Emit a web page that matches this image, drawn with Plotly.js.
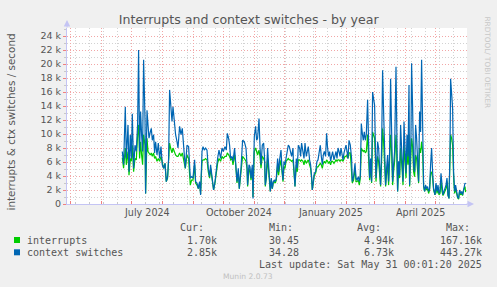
<!DOCTYPE html>
<html><head><meta charset="utf-8">
<script src="https://cdn.plot.ly/plotly-3.0.1.min.js"></script>
<style>html,body{margin:0;padding:0;background:#F0F0F0;}#chart{width:497px;height:287px;}</style>
</head><body><div id="chart"></div>
<script>
// ---- data (values in thousands per second) ----
const seriesStart = '2024-06-22';           // day 0 of the sampled series
const dayOffsets = [
 0,1.3,3,4,5.7,6.7,8,9,10,11.3,12.7,14,15.3,16.3,17.3,18.3,19.3,20.3,21.3,22.7,23.3,24.7,25.7,26.7,28,29,30,31.3,32.3,33.3,34.7,36,37.3,38.7,40,41.3,42.7,44,45.3,46.3,47.3,48.3,49.7,50.7,52,53.3,54.7,
 55.7,57.3,58.7,60,61.3,63,64.7,66.3,68,69.3,70.7,72.3,73.3,74.7,76,77.3,78.3,79.7,80.7,82,83.3,84.7,86,87.3,88.3,89.7,91.3,92.7,94,95.3,96.7,98.3,99.7,101,102.7,104,105,106.3,107.3,108.3,109.7,110.7,112.3,
 113,114.7,116,117,118.7,120.3,122,123.7,124.7,125.3,126.7,127.7,128.7,130,130.7,132,133.3,134.3,135.3,136.7,137.7,138.7,140,141.3,142.3,143,144,145.3,146.3,147.3,148,149,150,151,152,153,154,155.3,156.3,157.3,158.7,159.7,160.7,161.7,162.7,163.7,164.7,166,167,168,169.3,170.7,
 171,172.7,174,175,176,177.3,178.3,179.3,180.7,181.7,182.7,184,185,186,187.3,188.3,189.3,190,191,192,193.3,194.7,195.7,196.7,198,199,200,201,202,203.3,204.3,205.3,206.3,207.3,208.3,209.3,210.3,211.7,212.7,213.7,214.7,215.7,216.7,217.7,218.7,219.7,220.7,221.7,222.7,223.7,224.7,225.7,226.7,228,229.3,
 230,231.3,232.7,233.7,234.7,236,237,238,239,240,241,242,243,244,245.3,246.3,247.3,248.3,249.3,250.3,251.3,252.3,253,253.7,254.7,255.3,256.3,257.3,258.3,259.3,260.3,261.3,262.3,263.3,264.3,265.3,266.3,267.3,268.3,269.3,270.3,271.3,272.3,273.7,274.3,275.3,276.3,277.3,278.3,279.7,280.7,281.7,282.7,283.7,284.7,285.7,286.7,
 287.3,288.7,289.3,290.3,291.3,292.3,293.3,294.3,295.3,296.3,297.3,298.3,299.3,300.3,301.3,302.3,303.3,304.3,305.3,306.3,307.3,308.3,309.3,310.3,311.3,312.7,313.7,314.7,315.7,316.7,317.7,318.7,319.7,320.7,321.7,322.7,323.7,324.7,325.7,326.7,327.7,328.3,329.3,330.3,331.3,332.3,333.3,334.3,335.3,336.3,337.3,338.3,339.3,340.3,341.3,342.7,343.3
];
const contextSwitches = [
 7.5,5.6,13.9,6.5,11.3,4.6,9.9,6.5,12.9,5.1,8.4,7.5,11.3,22.0,7.5,13.2,9.9,7.5,20.6,12.2,1.5,13.4,11.3,9.4,10.3,10.8,9.1,9.9,7.3,8.9,7.0,8.7,6.5,8.2,5.6,5.1,5.8,3.2,3.9,6.5,16.3,14.1,11.8,13.9,11.3,9.9,8.9,
 8.0,11.1,9.9,10.8,8.7,5.1,8.4,8.2,3.7,3.9,3.7,6.3,3.2,3.0,2.2,3.2,1.3,7.5,8.2,7.7,8.0,7.7,5.1,3.9,5.6,3.4,2.0,3.2,5.1,6.5,7.7,6.5,8.0,7.5,8.2,7.7,10.1,9.4,8.4,6.5,6.8,6.1,8.0,
 6.9,3.2,5.1,2.2,5.1,9.1,8.9,8.0,5.6,2.7,5.6,5.3,3.7,5.6,0.8,9.6,11.1,9.1,9.4,12.2,8.2,5.6,8.4,8.7,6.5,2.7,3.9,8.0,5.6,3.2,1.8,3.7,2.2,3.2,3.4,3.2,3.7,6.5,4.6,6.3,7.7,5.1,3.4,6.1,5.6,6.5,7.3,8.4,8.2,7.5,6.8,8.0,
 6.5,2.5,6.5,5.1,8.4,8.0,6.8,8.7,7.5,6.5,8.7,6.8,7.5,8.2,6.3,5.6,3.9,2.0,3.2,4.4,4.6,6.1,6.3,7.5,8.4,6.8,5.6,7.0,7.5,6.8,10.1,8.0,6.8,7.5,6.1,6.8,7.5,6.3,7.0,7.5,6.5,8.0,7.5,6.8,8.0,7.0,6.3,7.3,7.7,8.4,7.5,6.5,9.1,8.4,6.5,
 3.2,3.9,5.8,3.7,3.4,3.9,3.2,4.1,11.5,10.1,9.1,10.3,9.1,9.9,14.9,8.7,3.7,6.5,3.2,16.0,15.3,14.1,8.9,3.7,6.5,8.9,8.0,4.1,2.7,8.0,19.1,13.2,5.6,2.7,5.1,7.0,3.2,7.5,17.9,9.9,3.2,5.6,7.5,19.6,11.3,1.8,6.1,4.1,11.3,6.1,3.2,11.8,7.5,4.4,9.9,6.8,17.0,
 2.7,9.9,20.1,13.7,5.6,4.6,11.3,9.4,5.6,3.2,13.2,10.3,20.6,12.2,2.7,1.8,2.7,2.2,2.5,1.8,2.2,5.6,8.0,4.6,2.2,1.3,3.0,1.8,2.7,1.5,1.8,4.4,2.0,1.3,1.8,2.2,2.7,3.7,1.3,0.8,7.5,17.9,16.0,13.7,4.6,1.8,2.7,1.5,1.0,0.8,2.0,1.5,1.8,1.3,2.2,3.0,2.85
];
const interrupts = [
 6.6,5.1,8.0,5.6,7.5,4.1,6.5,6.1,8.4,4.6,6.5,6.3,9.9,11.3,6.5,8.9,7.0,5.6,9.9,8.4,1.5,9.4,7.5,7.3,7.0,7.3,6.8,7.3,6.5,6.8,6.1,6.5,6.1,6.8,5.6,5.1,5.8,3.2,3.7,6.1,8.7,8.0,7.3,8.0,7.5,7.0,6.8,
 6.8,7.3,6.8,7.3,6.5,5.1,7.0,6.5,2.7,3.4,3.4,5.6,3.0,2.7,2.2,3.0,1.5,6.1,6.3,6.3,6.5,6.3,4.6,3.7,5.1,3.2,2.0,3.0,4.6,5.8,6.5,6.1,6.8,6.5,6.8,6.8,7.3,7.0,6.8,6.3,6.5,5.6,7.0,
 6.3,3.0,4.6,2.2,4.6,6.8,6.5,6.1,5.1,2.5,5.1,4.6,3.4,5.1,1.0,7.5,8.0,7.3,7.0,7.7,6.8,5.1,6.8,6.5,6.1,2.5,3.7,6.5,5.1,3.0,1.8,3.4,2.2,3.0,3.2,3.0,3.4,5.6,4.1,5.3,6.3,4.6,3.2,5.3,5.1,6.1,6.3,6.5,6.3,6.3,6.1,6.3,
 5.8,2.5,5.6,4.6,6.3,6.3,6.1,6.3,6.1,5.6,6.3,5.8,6.1,6.3,5.6,5.1,3.7,2.0,3.0,4.1,4.4,5.3,5.3,5.6,5.8,5.6,5.1,5.8,6.1,5.8,6.3,6.1,5.8,6.1,5.6,6.1,6.1,5.8,6.1,6.3,6.1,6.3,6.3,6.1,6.3,6.3,6.1,6.5,6.8,6.8,7.0,6.5,7.3,7.3,5.1,
 3.0,3.4,5.1,3.2,3.2,3.4,2.7,3.7,8.0,7.7,7.5,7.7,7.3,7.5,9.9,6.5,3.4,5.6,3.0,10.3,9.6,9.4,7.0,3.2,5.6,6.8,6.1,3.4,2.5,6.1,10.8,8.9,4.6,2.5,4.4,5.6,2.7,6.1,9.9,7.5,2.7,4.6,6.1,9.9,8.0,1.8,5.1,3.7,8.0,5.1,2.7,8.4,6.1,3.7,7.5,5.6,9.9,
 2.5,7.3,9.4,8.2,4.6,3.9,7.0,6.5,4.6,3.0,8.0,7.3,8.9,7.5,2.5,1.8,2.5,2.0,2.2,1.5,2.0,4.4,4.6,3.7,2.0,1.3,2.7,1.5,2.2,1.3,1.5,3.4,1.8,1.2,1.5,2.0,2.2,3.2,1.2,0.8,5.6,9.9,9.4,8.4,3.9,1.5,2.2,1.3,0.9,0.7,1.8,1.3,1.5,1.2,2.0,2.5,1.70
];
const yTickVals = [0,2,4,6,8,10,12,14,16,18,20,22,24];
const yTickText = ['0','2 k','4 k','6 k','8 k','10 k','12 k','14 k','16 k','18 k','20 k','22 k','24 k'];
const monthLabels = ['July 2024','October 2024','January 2025','April 2025'];
const monthLabelMonths = ['2024-07','2024-10','2025-01','2025-04'];
const legendNames = ['interrupts','context switches'];
const legendCur = ['1.70k','2.85k'];
const legendMin = ['30.45','34.28'];
const legendAvg = ['4.94k','6.73k'];
const legendMax = ['167.16k','443.27k'];
const lastUpdate = 'Last update: Sat May 31 00:01:20 2025';
const titleText = 'Interrupts and context switches - by year';
const yTitle = 'interrupts &amp; ctx switches / second';

// ---- helpers ----
const DAY = 864e5;
const t0 = Date.parse(seriesStart + 'T00:00:00Z');
const iso = ms => new Date(ms).toISOString().replace('T',' ').replace('Z','');
const xDates = dayOffsets.map(d => iso(t0 + d*DAY));
const monthStarts = [];
for (let y = 2024, m = 4; y < 2025 || m <= 5; ) {
  monthStarts.push(iso(Date.UTC(y, m, 1)));
  m++; if (m > 11) { m = 0; y++; }
}
const midMonth = s => { const [y,m] = s.split('-').map(Number); return iso((Date.UTC(y,m-1,1)+Date.UTC(y,m,1))/2); };

// plot area in pixels: left 67, right 467, top 28, bottom 204
const L=67, R=467, T=28, B=204;
const PX = p => (p - L)/(R - L);
const PY = p => (B - p)/(B - T);

const GREEN = '#00CC00', BLUE = '#0066B3';
const AXIS = '#c4c4f4';
const MAJ = '#f2a6a6', MIN = '#d2d2d2';
const GRAY = '#555555';
const mono = 'DejaVu Sans Mono', sans = 'DejaVu Sans';

const traces = [
  {x:xDates, y:interrupts, type:'scatter', mode:'lines', line:{color:GREEN, width:1.2}, hoverinfo:'skip', showlegend:false},
  {x:xDates, y:contextSwitches, type:'scatter', mode:'lines', line:{color:BLUE, width:1.2}, hoverinfo:'skip', showlegend:false}
];

const ann = [];
const txt = (text, x, y, xanchor, size, color, family, extra) => ann.push(Object.assign({
  text, x, y, xref:'paper', yref:'paper', xanchor, yanchor:'middle', showarrow:false,
  borderpad:0, font:{size, color, family}}, extra||{}));

// month labels (centered in their month)
monthLabels.forEach((t,i) => ann.push({text:t, x:midMonth(monthLabelMonths[i]), xref:'x', y:PY(212.5), yref:'paper',
  xanchor:'center', yanchor:'middle', showarrow:false, borderpad:0, font:{size:9.6, color:GRAY, family:sans}}));

txt(yTitle, PX(10.5), PY(122), 'center', 10.4, GRAY, sans, {textangle:-90});
txt('RRDTOOL/ TOBI OETIKER', PX(487.5), PY(62), 'center', 7.3, '#c8c8c8', sans, {textangle:90});

// legend table
const hy = PY(228), r1 = PY(240), r2 = PY(252);
txt('Cur:', PX(204.5), hy, 'right', 10, GRAY, mono);
txt('Min:', PX(293.8), hy, 'right', 10, GRAY, mono);
txt('Avg:', PX(381.5), hy, 'right', 10, GRAY, mono);
txt('Max:', PX(470.5), hy, 'right', 10, GRAY, mono);
[r1, r2].forEach((ry, i) => {
  txt(legendNames[i], PX(25.5), ry, 'left', 10, GRAY, mono);
  txt(legendCur[i], PX(217.8), ry, 'right', 10, GRAY, mono);
  txt(legendMin[i], PX(299.8), ry, 'right', 10, GRAY, mono);
  txt(legendAvg[i], PX(394.5), ry, 'right', 10, GRAY, mono);
  txt(legendMax[i], PX(483.2), ry, 'right', 10, GRAY, mono);
});
txt(lastUpdate, PX(483.2), PY(264), 'right', 10, GRAY, mono);
txt('Munin 2.0.73', PX(248), PY(276), 'center', 7.6, '#c0c0c0', sans);

// axis arrows
ann.push({x:0, y:PY(20), xref:'paper', yref:'paper', ax:0, ay:9, showarrow:true, arrowhead:2, arrowsize:1.3, arrowwidth:1, arrowcolor:AXIS, text:''});
ann.push({x:PX(474), y:0, xref:'paper', yref:'paper', ax:-9, ay:0, showarrow:true, arrowhead:2, arrowsize:1.3, arrowwidth:1, arrowcolor:AXIS, text:''});

const shapes = [
  {type:'rect', xref:'paper', yref:'paper', x0:PX(14), x1:PX(20), y0:PY(243), y1:PY(237), fillcolor:GREEN, line:{width:0}},
  {type:'rect', xref:'paper', yref:'paper', x0:PX(14), x1:PX(20), y0:PY(255.3), y1:PY(249.3), fillcolor:BLUE, line:{width:0}}
];

const layout = {
  width:497, height:287,
  margin:{l:L, r:497-R, t:T, b:287-B, pad:0},
  paper_bgcolor:'#F0F0F0', plot_bgcolor:'#FFFFFF',
  showlegend:false,
  title:{text:titleText, x:248.7/497, xref:'container', xanchor:'center', y:1-19.3/287, yref:'container', yanchor:'middle',
    font:{family:sans, size:12.6, color:GRAY}},
  xaxis:{type:'date', range:[iso(t0-55.3*DAY), iso(t0+344.7*DAY)], tickmode:'array', tickvals:monthStarts,
    showticklabels:false, ticks:'inside', ticklen:3, tickcolor:'#f08080', tickwidth:1,
    showgrid:true, gridcolor:MAJ, griddash:'1px,2px', gridwidth:1,
    minor:{tickmode:'linear', tick0:'2024-12-30', dtick:14*DAY, showgrid:true, gridcolor:MIN, griddash:'1px,2px', gridwidth:1,
      ticks:'inside', ticklen:2, tickcolor:'#c8c8c8'},
    showline:true, linecolor:AXIS, linewidth:1, zeroline:false, fixedrange:true},
  yaxis:{range:[0,(B-T)/7], tickmode:'array', tickvals:yTickVals, ticktext:yTickText,
    ticks:'outside', ticklen:3, tickcolor:'#f08080', tickwidth:1,
    tickfont:{family:sans, size:9.5, color:GRAY},
    showgrid:true, gridcolor:MAJ, griddash:'1px,2px', gridwidth:1,
    minor:{tickmode:'linear', tick0:0, dtick:1, showgrid:true, gridcolor:MIN, griddash:'1px,2px', gridwidth:1,
      ticks:'outside', ticklen:2, tickcolor:'#c8c8c8'},
    showline:true, linecolor:AXIS, linewidth:1, zeroline:false, fixedrange:true},
  annotations:ann, shapes:shapes
};

Plotly.newPlot('chart', traces, layout, {staticPlot:true, displayModeBar:false});
</script></body></html>
